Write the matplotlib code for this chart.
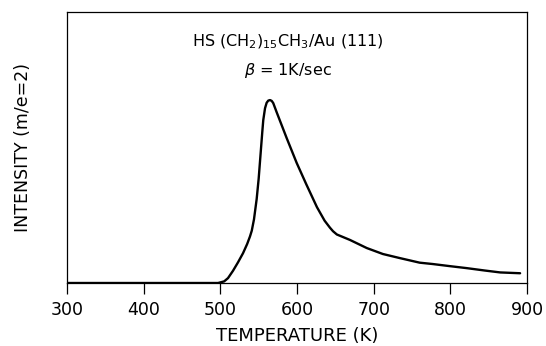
import matplotlib
matplotlib.use("Agg")
import matplotlib.pyplot as plt

temperature = [300, 400, 490, 497, 505, 510, 516.5, 523, 529.6, 535, 538.7, 541, 543.9, 547.4,
               550, 552.6, 554.8, 556, 558.3, 560.4, 562.5, 564.8, 567, 569, 573.5,
               586.5, 599.6, 612, 626, 636, 643, 647, 652, 669, 691, 712, 734, 760, 777,
               800, 821, 845, 865, 891]
intensity = [0, 0, 0, 0, 0.6, 1.8, 4.5, 7.6, 11.0, 14.4, 17.2, 19.3, 23.5, 31.0,
             38.5, 48, 56, 60.1, 64.5, 66.5, 67.3, 67.5, 67.2, 66.4, 63,
             53.5, 44.3, 36.5, 28, 23, 20.4, 19.1, 17.9, 15.9, 12.9, 10.7, 9.2, 7.5, 7.0,
             6.2, 5.5, 4.6, 3.9, 3.6]
xticks = [300, 400, 500, 600, 700, 800, 900]

plt.rcParams['font.family'] = ['DejaVu Sans']
plt.rcParams['mathtext.fontset'] = 'dejavusans'

W, H = 546, 346
fig = plt.figure(figsize=(W / 100, H / 100), dpi=100)
ax = fig.add_axes([67 / W, 1 - 283 / H, 460 / W, 271 / H])
ax.plot(temperature, intensity, color='black', lw=1.7, solid_capstyle='round',
        solid_joinstyle='round')
ax.set_xlim(300, 900)
ax.set_ylim(0, 100)
ax.set_xticks(xticks)
ax.set_xticklabels([str(t) for t in xticks], fontsize=12.5)
ax.set_yticks([])
ax.tick_params(axis='x', direction='out', length=8, width=0.9, pad=5)
for s in ax.spines.values():
    s.set_linewidth(0.9)

fig.text(297 / W, 1 - 341 / H, 'TEMPERATURE (K)', ha='center', va='baseline',
         fontsize=13)
fig.text(22.6 / W, 1 - 147.5 / H, 'INTENSITY (m/e=2)', ha='center', va='center',
         rotation=90, fontsize=12.5)

ax.text(0.48, 0.8745, r'HS (CH$_2$)$_{15}$CH$_3$/Au (111)', transform=ax.transAxes,
        ha='center', va='baseline', fontsize=11.5)
ax.text(0.48, 0.7675, r'$\beta$ = 1K/sec', transform=ax.transAxes,
        ha='center', va='baseline', fontsize=11.5)

fig.savefig('out.png', dpi=100)
